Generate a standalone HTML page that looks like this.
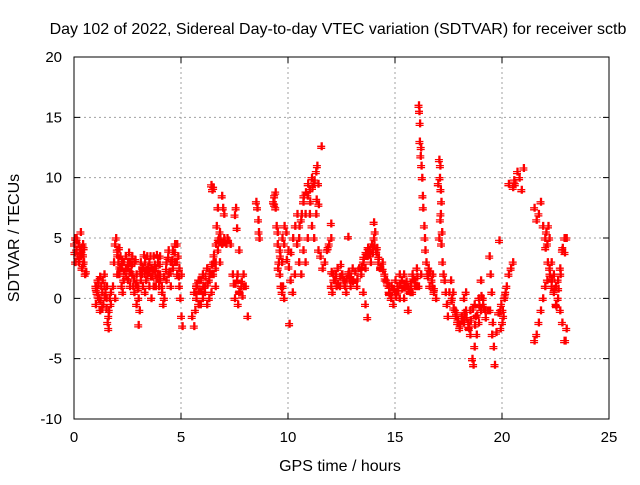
<!DOCTYPE html>
<html><head><meta charset="utf-8"><style>
body{margin:0;background:#fff}
svg text{font-family:"Liberation Sans","DejaVu Sans",sans-serif;font-size:15px;fill:#000}
svg text.big{font-size:16px}
</style></head><body>
<svg id="chart" width="640" height="480" xmlns="http://www.w3.org/2000/svg">
<rect width="640" height="480" fill="#fff"/>
<text class="big" x="338" y="34" text-anchor="middle">Day 102 of 2022, Sidereal Day-to-day VTEC variation (SDTVAR) for receiver sctb</text>
<text class="big" x="340" y="471" text-anchor="middle">GPS time / hours</text>
<text class="big" transform="translate(19,238) rotate(-90)" text-anchor="middle">SDTVAR / TECUs</text>
<g id="grid"></g>
<g id="ticks"></g>
<g id="points"></g>
<rect x="74" y="57" width="535" height="362" fill="none" stroke="#000" stroke-width="1"/>
</svg>
<script>
const xTicks=[0,5,10,15,20,25];
const yTicks=[-10,-5,0,5,10,15,20];
const times=[0,0.05,0.1,0.15,0.2,0.25,0.3,0.35,0.4,0.45,0.5,0.05,0.1,0.2,0.3,0.35,0.4,0.45,0.55,
1.0,1.05,1.1,1.15,1.2,1.25,1.3,1.35,1.4,1.45,1.5,1.55,1.6,1.65,1.7,1.0,1.1,1.2,1.3,1.4,1.5,1.6,1.7,
1.8,1.85,1.9,1.95,2.0,2.05,2.1,2.15,2.2,2.25,2.3,2.4,2.5,1.9,2.0,2.1,2.2,2.3,2.4,
2.5,2.6,2.7,2.8,2.9,3.0,3.05,3.1,3.2,3.3,3.4,3.5,3.6,3.7,3.8,3.9,4.0,
2.5,2.6,2.7,2.8,2.9,3.0,3.1,3.2,3.3,3.4,3.5,3.6,3.7,3.8,3.9,4.0,
2.55,2.75,2.95,3.15,3.35,3.55,3.75,3.95,2.65,2.85,3.25,3.45,3.65,3.85,
4.0,4.1,4.15,4.2,4.3,4.4,4.5,4.6,4.7,4.8,4.85,4.9,4.95,5.0,5.05,4.3,4.4,4.5,4.6,4.7,4.8,4.9,5.0,
5.5,5.6,5.6,5.7,5.8,5.9,6.0,6.1,6.2,6.3,6.4,6.5,6.6,5.65,5.7,5.8,5.9,6.0,6.1,6.2,6.3,6.4,6.5,6.6,
6.6,6.7,6.8,6.9,7.0,6.4,6.45,6.5,6.65,6.7,6.75,6.8,6.9,6.95,7.0,7.1,7.15,7.2,7.3,7.5,7.55,7.6,7.7,
7.4,7.5,7.6,7.7,7.8,7.9,8.0,8.1,7.45,7.65,7.85,8.55,8.6,8.62,8.65,8.5,
9.3,9.35,9.4,9.45,9.5,9.55,9.6,9.65,9.7,9.75,9.8,9.5,9.6,9.7,9.8,9.9,10.0,10.1,10.2,10.3,10.05,9.35,9.4,
10.4,10.5,10.6,10.7,10.8,10.9,11.0,11.1,11.2,11.3,11.35,11.4,10.5,10.6,10.7,10.8,10.9,11.0,11.1,11.2,11.3,11.4,11.5,11.55,
11.6,11.7,11.8,11.9,12.0,12.0,11.85,
12.0,12.1,12.2,12.3,12.4,12.5,12.6,12.7,12.8,12.9,13.0,12.05,12.25,12.45,12.65,12.85,12.8,
13.0,13.2,13.4,13.5,13.6,13.7,13.8,13.9,14.0,14.1,14.2,14.3,14.4,14.5,14.6,14.7,13.3,13.5,13.6,13.7,14.0,14.05,13.85,13.95,14.15,
14.7,14.8,14.9,15.0,15.1,15.2,15.3,15.4,15.5,15.6,15.7,15.8,15.9,16.0,16.1,16.2,15.0,15.2,15.4,15.6,15.8,16.0,
16.1,16.12,16.15,16.2,16.22,16.25,16.28,16.3,16.35,16.38,16.4,16.45,16.14,16.18,
16.5,16.6,16.7,16.8,16.9,16.55,16.75,
17.05,17.1,17.08,17.12,17.15,17.1,17.05,17.15,17.2,17.25,17.3,17.35,17.4,17.45,17.12,17.18,17.0,
17.6,17.7,17.8,17.9,18.0,18.1,18.2,17.65,17.85,
18.2,18.3,18.4,18.5,18.6,18.65,18.7,18.8,18.9,19.0,19.1,19.2,18.3,18.5,18.7,18.9,19.0,19.1,18.45,18.75,
19.4,19.45,19.5,19.55,19.6,19.65,19.42,19.52,
19.9,20.0,20.1,20.2,20.3,20.4,20.5,19.86,19.95,20.05,20.15,
20.3,20.5,20.6,20.7,20.8,20.9,21.0,20.55,
21.5,21.6,21.7,21.8,21.9,22.0,22.1,22.2,22.3,22.4,22.5,22.6,22.7,22.8,22.9,
21.5,21.6,21.7,21.8,21.9,22.0,22.1,22.2,22.3,22.4,22.5,22.6,22.7,22.8,22.9,23.0,22.95,23.0,22.05,22.15,
0.02,0.12,0.22,0.32,0.42,1.02,1.12,1.22,1.32,1.42,1.52,1.62,2.02,2.12,2.22,2.32,2.42,2.58,2.68,2.78,2.88,2.98,3.08,3.18,3.28,3.38,3.48,3.58,3.68,3.78,3.88,3.98,4.08,4.18,4.28,4.38,4.48,4.58,4.68,4.78,4.88,
5.72,5.82,5.92,6.02,6.12,6.22,6.32,6.42,6.52,6.62,6.72,6.82,6.92,7.02,7.52,7.62,7.72,7.82,7.92,
9.52,9.62,9.72,9.82,9.92,10.02,10.12,10.22,10.32,10.42,10.52,10.62,10.72,10.82,10.92,11.02,11.12,11.22,11.32,11.42,
12.02,12.12,12.22,12.32,12.42,12.52,12.62,12.72,12.82,12.92,13.02,13.12,13.22,13.42,13.52,13.62,13.72,13.82,13.92,14.02,14.12,14.22,14.32,14.42,14.52,14.62,
14.72,14.82,14.92,15.02,15.12,15.22,15.32,15.42,15.52,15.62,15.72,15.82,15.92,16.02,16.52,16.62,16.72,16.82,
17.52,17.62,17.72,17.82,17.92,18.02,18.12,18.22,18.32,18.42,18.52,18.62,18.72,18.82,18.92,19.02,19.12,19.22,19.32,
19.72,19.82,19.92,20.02,20.12,22.02,22.12,22.22,22.32,22.42,22.52,22.62,22.72,22.82,22.92];
const values=[4.5,5,4,3.5,3,4,3.5,2.5,4.5,3,2,3,5,4.5,5.5,3.8,2.8,4.2,2.2,
-0.5,0.5,1.5,0,-1,1,0.5,-0.5,1,0.5,-0.8,-2,-1.5,0,0.5,1,0.2,1.8,-0.8,2,0,-2.5,-0.5,
1,3,4.5,5,4,3,2,3.5,1,0.5,3,2.5,3,0,2,4.2,2.5,1.5,3.5,
1.5,3,2,0.5,-0.5,-2.2,-1,1.5,2.5,3,2,1,0,1,2.5,3,2,
2.5,1,3.5,3,2,0,3,1,0.5,3.5,3,2.5,3.5,1,2,3.5,
3.8,1,1,2,1.5,3.5,2.8,1,2.2,3.2,3.6,2.6,1.8,3.6,
1.5,0.5,-0.5,0,1.5,2,3,4,3,4.5,3.5,1,0,-1.5,-2.3,3,4,1,2.5,4.5,2,2.5,2,
-1.5,-2.3,0.5,1,-0.5,1.5,0,1,-0.5,1.5,0.5,2,1,-1,0,1.5,-0.5,2,0.5,2.5,0,2,3,2.5,
3,4,5.5,4.5,5,9.4,9.0,9.2,6,7.5,5,3,8.5,7.5,7,4.5,5,4.8,4.5,6.9,7.5,5.8,4,
2,0,1.5,0.5,1,2,1,-1.5,1.2,-0.5,0.2,7.5,6.5,5.5,5,8,
8,8.5,7.5,6,4.5,3,2,1,0.5,1,0,5.5,4,3,4.5,5.5,4,1.5,0.5,2,-2.1,7.8,8.8,
4.5,5,6.5,8,7,8.5,9,10,9.5,10.5,11,9.5,3,2,4,3,5,7,6,5,7,4,3.5,12.6,
2.5,3,4,4.5,5,6.2,4.2,
1,2,1.5,2.5,1,2,1.5,0.5,2,1,2.5,0.5,1,2.8,1,1.8,5.1,
1.5,1,2,3,2.5,3.5,4,4.5,5,4,3,2.5,3,2,1.5,0.5,2.5,0.5,-0.5,-1.6,6.3,5.5,3,3.8,4.2,
1,0,-0.5,0.5,1,0,1.5,2,1,-1,0.5,2,1.5,2.5,1,2,1.5,2,0,1,0.5,1,
16,15.5,14.5,12.5,11,10,8.5,7.5,6,5,4,3,13,11.8,
2,1,1.5,0.5,0,2.5,2,
11.5,11,10,9,8,6.5,5,4.5,3,2,1.5,0.5,-0.5,-1.5,7,5.5,9.5,
1.5,0.5,-1,-2,-2.5,-1.5,-2,0,-1.2,
0,-1,-2,-3,-5,-5.5,-4,-3,-2,-1,0,-1,0.5,-1,-0.5,0,1.5,-0.5,-2.5,-1.5,
3.5,2,0.5,-2,-4,-5.5,-1,-3,
-1,-2,0,1,2,2.5,3,4.8,-0.5,-1.5,0.5,
9.5,9.2,9.5,10.5,10,9,10.8,9.8,
7.5,6.5,7,8,6,5,4.5,5,3,2,1,0,-1,-2,-3.5,
-3.5,-3,-2,-1,0,1,1.5,2.5,1,0.5,-0.5,1.5,2.5,4,5,5,-3.5,-2.5,5.5,6,
3.8,4.8,3.2,4.2,3.6,0.8,1.2,-0.2,1.5,0.2,1.0,-1.0,3.6,2.6,3.2,2.2,1.8,2.2,2.8,1.6,1.2,0.8,2.2,2.6,2.0,2.4,2.2,1.8,2.4,2.0,1.6,2.8,1.0,1.8,2.4,3.4,2.2,3.2,3.8,3.0,1.8,
1.2,0.6,0.6,1.0,1.8,1.2,2.2,2.8,3.6,4.5,4.8,5.0,4.6,4.8,1.2,2.0,0.6,1.4,1.0,
2.5,3.5,5.0,6.0,3.2,2.6,3.8,5.0,6.0,7.0,6.0,7.0,8.5,8.8,9.5,8.0,9.2,9.8,8.2,7.8,
2.2,1.5,2.0,1.2,1.8,2.0,1.2,1.6,2.2,1.8,1.4,2.2,1.6,2.6,3.4,3.8,4.2,3.6,4.0,4.4,3.8,3.4,2.6,2.4,1.6,1.2,
0.4,1.0,0.8,0.2,0.6,1.2,0.8,1.0,1.4,0.6,1.2,1.6,1.0,1.8,1.8,2.2,1.0,0.8,
0.5,-0.2,-0.8,-1.5,-1.8,-2.2,-1.8,-1.2,-1.6,-2.4,-1.8,-0.8,-2.2,-1.4,-0.6,0.2,-0.8,-1.6,-1.0,
-2.8,-1.2,-2.5,-1.0,0.2,4.2,3.0,2.0,1.6,0.8,-0.6,0.8,2.0,4.2,3.8];
const X0=74,X1=609,Y0=419,Y1=57;
function xs(t){return X0+(t-0)/(25-0)*(X1-X0);}
function ys(v){return Y0-(v-(-10))/(20-(-10))*(Y0-Y1);}
const NS='http://www.w3.org/2000/svg';
const grid=document.getElementById('grid'),tk=document.getElementById('ticks'),pts=document.getElementById('points');
function mk(tag,attrs,parent){const e=document.createElementNS(NS,tag);for(const k in attrs)e.setAttribute(k,attrs[k]);parent.appendChild(e);return e;}
xTicks.forEach(t=>{const x=xs(t);
 if(t>0&&t<25){const g=mk('line',{x1:x,y1:Y0,x2:x,y2:Y1,stroke:'#a0a0a0','stroke-dasharray':'2,3'},grid);
 
 }
 const l=mk('path',{d:`M${x},${Y0}v-6M${x},${Y1}v6`,stroke:'#000'},tk);
 
 
 const tx=mk('text',{x:x,y:Y0+23,'text-anchor':'middle'},tk);tx.textContent=t;
 
 });
yTicks.forEach(v=>{const y=ys(v);
 if(v>-10&&v<20){const g=mk('line',{x1:X0,y1:y,x2:X1,y2:y,stroke:'#a0a0a0','stroke-dasharray':'2,3'},grid);
 
 }
 const l=mk('path',{d:`M${X0},${y}h6M${X1},${y}h-6`,stroke:'#000'},tk);
 
 
 const tx=mk('text',{x:X0-12,y:y+5,'text-anchor':'end'},tk);tx.textContent=v;
 
 });
let d='';
const n=Math.min(times.length,values.length);
for(let i=0;i<n;i++){const x=xs(times[i]),y=ys(values[i]);
 d+=`M${(x-4).toFixed(1)},${y.toFixed(1)}h8M${x.toFixed(1)},${(y-4).toFixed(1)}v8`;
 d+=`M${(x-4).toFixed(1)},${(y+2).toFixed(1)}h8M${(x+1).toFixed(1)},${(y-4).toFixed(1)}v8`;}
const p=mk('path',{d:d,stroke:'#ff0000','stroke-width':'1.3',fill:'none'},pts);


</script>
</body></html>
